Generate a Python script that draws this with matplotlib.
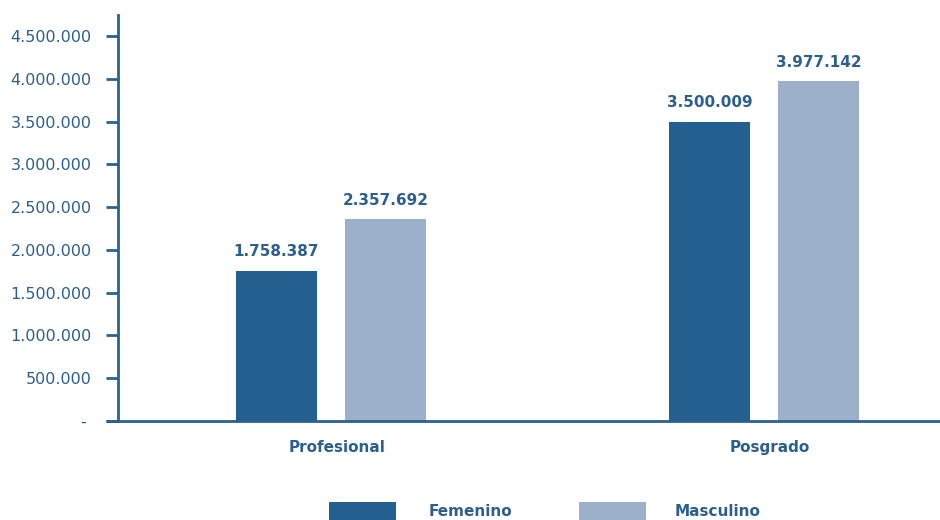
import matplotlib
matplotlib.use("Agg")
import matplotlib.pyplot as plt
from matplotlib.patches import Rectangle
import matplotlib.transforms as mtransforms
import numpy as np

categories = ["Profesional", "Posgrado"]
series_names = ["Femenino", "Masculino"]
femenino = [1758387, 3500009]
masculino = [2357692, 3977142]
value_labels_f = ["1.758.387", "3.500.009"]
value_labels_m = ["2.357.692", "3.977.142"]
yticks = [0, 500000, 1000000, 1500000, 2000000, 2500000, 3000000, 3500000, 4000000, 4500000]
ytick_labels = ["- ", "500.000", "1.000.000", "1.500.000", "2.000.000", "2.500.000",
                "3.000.000", "3.500.000", "4.000.000", "4.500.000"]

DARK = "#23608f"
LIGHT = "#9cb1c9"
TEXT = "#2c5f8e"
AXIS = "#2a6092"

plt.rcParams['font.family'] = ['DejaVu Sans']

W, H = 940, 520
fig = plt.figure(figsize=(W / 100, H / 100), dpi=100)
ax = fig.add_axes([118 / W, (H - 421) / H, 822 / W, (421 - 15) / H])

x = np.arange(len(categories))
bw = 0.187
off = 0.126
b1 = ax.bar(x - off, femenino, width=bw, color=DARK, zorder=2)
b2 = ax.bar(x + off, masculino, width=bw, color=LIGHT, zorder=2)

for bars, labs in ((b1, value_labels_f), (b2, value_labels_m)):
    for rect, lab in zip(bars, labs):
        ax.annotate(lab, (rect.get_x() + rect.get_width() / 2, rect.get_height()),
                    xytext=(0, 8), textcoords="offset points", ha="center", va="bottom",
                    fontsize=11, fontweight="bold", color=TEXT)

ax.set_xlim(-0.492, 1.406)
ax.set_ylim(0, 4745000)
ax.set_yticks(yticks)
ax.set_yticklabels(ytick_labels)
ax.set_xticks(x)
ax.set_xticklabels(categories)

for s in ("top", "right"):
    ax.spines[s].set_visible(False)
for s in ("left", "bottom"):
    ax.spines[s].set_color(AXIS)
    ax.spines[s].set_linewidth(2)
ax.tick_params(axis="y", length=9, width=2, color=AXIS, labelcolor=TEXT, labelsize=11.5, pad=10)
ax.tick_params(axis="x", length=0, labelcolor=TEXT, labelsize=11, pad=14)
shift = mtransforms.ScaledTranslation(6 / 100, 0, fig.dpi_scale_trans)
for t in ax.get_xticklabels():
    t.set_fontweight("bold")
    t.set_transform(t.get_transform() + shift)
# extend bottom axis line leftwards like the zero tick
ax.plot([-0.492 - 12 / 433, -0.492], [0, 0], color=AXIS, lw=2, clip_on=False, zorder=3,
        solid_capstyle="butt")

# legend
items = [(329, DARK, series_names[0], 429), (579, LIGHT, series_names[1], 675)]
for px, col, name, tx in items:
    fig.patches.append(Rectangle((px / W, 0), 67 / W, 18 / H, transform=fig.transFigure,
                                 facecolor=col, edgecolor="none"))
    fig.text(tx / W, (H - 512) / H, name, ha="left", va="center", fontsize=11,
             fontweight="bold", color=TEXT)

fig.savefig("out.png", dpi=100)
